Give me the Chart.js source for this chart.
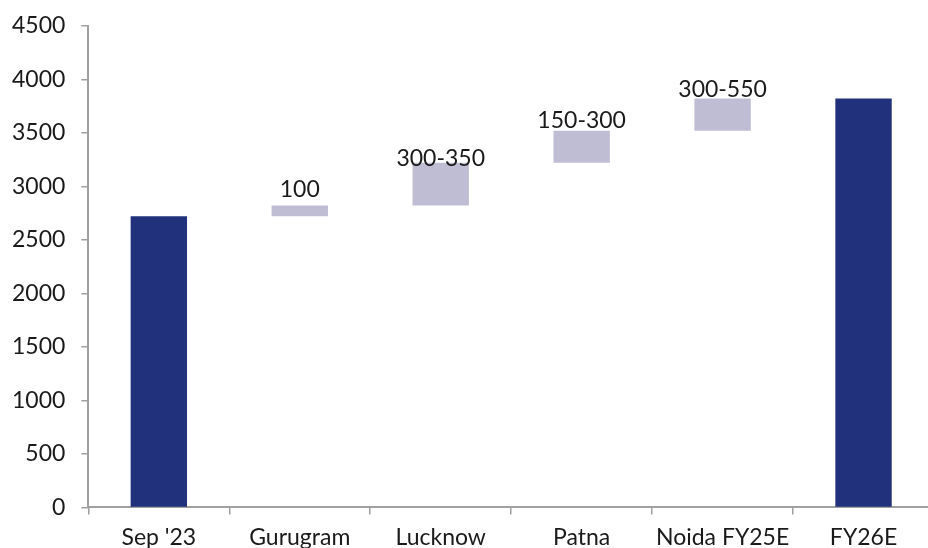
<!DOCTYPE html>
<html>
<head>
<meta charset="utf-8">
<script src="https://cdn.jsdelivr.net/npm/chart.js@4/dist/chart.umd.min.js"></script>
<style>
  html, body { margin: 0; padding: 0; background: #fff; overflow: hidden; }
  #wrap { width: 928px; height: 548px; overflow: hidden; }
  #bridge { display: block; margin: -4px 0 0 -4px; }
</style>
</head>
<body>
<div id="wrap"><canvas id="bridge" width="938" height="564"></canvas></div>
<script>
var categories = ["Sep '23", 'Gurugram', 'Lucknow', 'Patna', 'Noida FY25E', 'FY26E'];
var barStart = [0, 2720, 2820, 3220, 3520, 0];
var barEnd = [2720, 2820, 3220, 3520, 3820, 3820];
var rangeLabels = ['', '100', '300-350', '150-300', '300-550', ''];
var yTicks = [0, 500, 1000, 1500, 2000, 2500, 3000, 3500, 4000, 4500];

var totalColor = '#21317b';
var stepColor = '#bfbdd3';
var axisColor = '#a0a0a0';
var fontStack = "Lato, 'Noto Sans', sans-serif";
// small vertical nudges for the range labels
var labelNudge = [0, -8, 4, -2, -1, 0];

Chart.defaults.font.family = fontStack;
Chart.defaults.font.size = 23;
Chart.defaults.color = '#1a1a1a';

var floating = categories.map(function (c, i) { return [barStart[i], barEnd[i]]; });
var colors = categories.map(function (c, i) {
    return barStart[i] === 0 ? totalColor : stepColor;
});

var rangeLabelPlugin = {
    id: 'rangeLabels',
    afterDatasetsDraw: function (chart) {
        var ctx = chart.ctx;
        var meta = chart.getDatasetMeta(0);
        ctx.save();
        ctx.font = '23px ' + fontStack;
        ctx.fillStyle = '#1a1a1a';
        ctx.textAlign = 'center';
        ctx.textBaseline = 'alphabetic';
        meta.data.forEach(function (bar, i) {
            if (!rangeLabels[i]) return;
            ctx.fillText(rangeLabels[i], bar.x, bar.y - 1 + labelNudge[i]);
        });
        ctx.restore();
    }
};

var ctx = document.getElementById('bridge').getContext('2d');
var myChart = new Chart(ctx, {
    type: 'bar',
    data: {
        labels: categories,
        datasets: [{
            data: floating,
            backgroundColor: colors,
            borderWidth: 0,
            barPercentage: 0.4,
            categoryPercentage: 1
        }]
    },
    options: {
        responsive: false,
        animation: false,
        layout: { padding: { left: 0, top: 18, right: 0, bottom: 0 } },
        plugins: {
            legend: { display: false },
            tooltip: { enabled: false }
        },
        scales: {
            x: {
                offset: true,
                grid: {
                    offset: true,
                    drawOnChartArea: false,
                    drawTicks: true,
                    tickLength: 7,
                    color: axisColor,
                    lineWidth: 1.5
                },
                border: { display: true, color: axisColor, width: 2 },
                ticks: { padding: 9, maxRotation: 0, autoSkip: false }
            },
            y: {
                min: 0,
                max: 4500,
                afterBuildTicks: function (scale) {
                    scale.ticks = yTicks.map(function (v) { return { value: v }; });
                },
                grid: {
                    drawOnChartArea: false,
                    drawTicks: true,
                    tickLength: 7,
                    color: axisColor,
                    lineWidth: 1.5
                },
                border: { display: true, color: axisColor, width: 2 },
                ticks: {
                    padding: 16,
                    callback: function (v) { return String(v); }
                }
            }
        }
    },
    plugins: [rangeLabelPlugin]
});
</script>
</body>
</html>
